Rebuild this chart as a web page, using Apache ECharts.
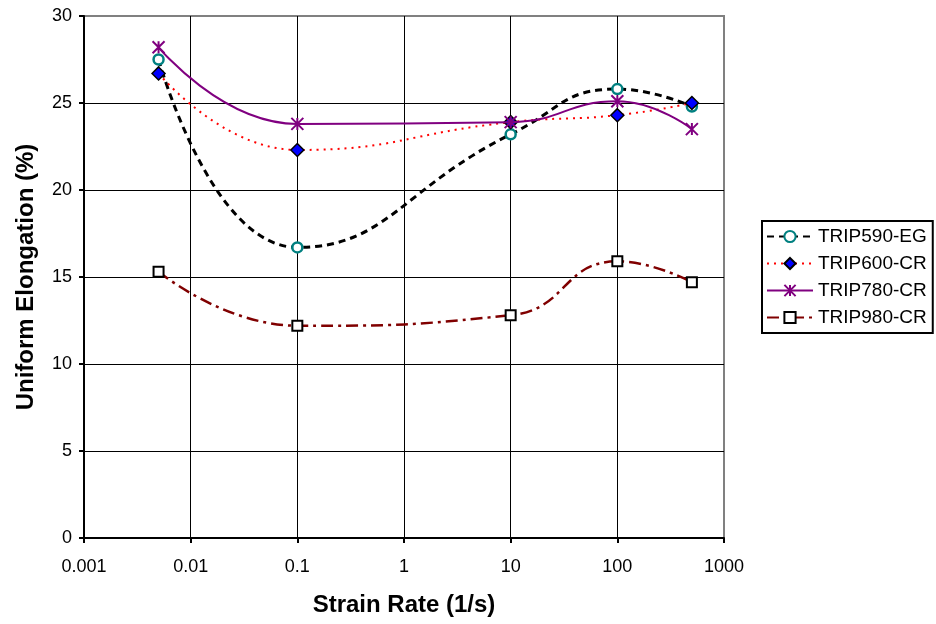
<!DOCTYPE html>
<html>
<head>
<meta charset="utf-8">
<script src="https://cdn.jsdelivr.net/npm/echarts@6/dist/echarts.min.js"></script>
<style>
  html, body { margin: 0; padding: 0; background: #fff; }
  #chart { width: 936px; height: 624px; }
</style>
</head>
<body>
<div id="chart"></div>
<script>
// strain rates (1/s)
const strainRates = [0.005, 0.1, 10, 100, 500];
const xTickLabels = ['0.001', '0.01', '0.1', '1', '10', '100', '1000'];

const trip590 = [27.5, 16.7, 23.2, 25.8, 24.8];
const trip600 = [26.7, 22.3, 23.9, 24.3, 25.0];
const trip780 = [28.2, 23.8, 23.9, 25.1, 23.5];
const trip980 = [15.3, 12.2, 12.8, 15.9, 14.7];

function pairs(vals) {
    return strainRates.map((x, i) => [x, vals[i]]);
}

const font = 'Liberation Sans, Arial, sans-serif';

var dom = document.getElementById('chart');
var myChart = echarts.init(dom, null, { renderer: 'canvas' });

var option = {
    animation: false,
    grid: {
        left: 84,
        right: 212,
        top: 16,
        bottom: 86,
        show: true,
        borderColor: '#808080',
        borderWidth: 2
    },
    legend: {
        orient: 'vertical',
        left: 762,
        top: 221,
        width: 171,
        padding: [6, 6, 6, 4],
        itemGap: 8,
        itemWidth: 46,
        itemHeight: 14,
        borderColor: '#000',
        borderWidth: 2,
        backgroundColor: '#fff',
        textStyle: { fontFamily: font, fontSize: 19, color: '#000' },
        data: ['TRIP590-EG', 'TRIP600-CR', 'TRIP780-CR', 'TRIP980-CR']
    },
    xAxis: {
        type: 'log',
        logBase: 10,
        min: 0.001,
        max: 1000,
        name: 'Strain Rate (1/s)',
        nameLocation: 'middle',
        nameGap: 55,
        nameTextStyle: { fontFamily: font, fontSize: 24, fontWeight: 'bold', color: '#000' },
        axisLine: { show: true, lineStyle: { color: '#000', width: 2 } },
        axisTick: { show: true, length: 5, lineStyle: { color: '#000', width: 2 } },
        axisLabel: {
            fontFamily: font, fontSize: 18, color: '#000', margin: 20,
            formatter: function (v) {
                return xTickLabels[Math.round(Math.log10(v)) + 3];
            }
        },
        splitLine: { show: true, showMaxLine: false, lineStyle: { color: '#000', width: 1 } },
        minorSplitLine: { show: false }
    },
    yAxis: {
        type: 'value',
        min: 0,
        max: 30,
        interval: 5,
        name: 'Uniform Elongation (%)',
        nameLocation: 'middle',
        nameGap: 46,
        nameTextStyle: { fontFamily: font, fontSize: 24, fontWeight: 'bold', color: '#000' },
        axisLine: { show: true, lineStyle: { color: '#000', width: 2 } },
        axisTick: { show: true, length: 5, lineStyle: { color: '#000', width: 2 } },
        axisLabel: { fontFamily: font, fontSize: 18, color: '#000', margin: 12 },
        splitLine: { show: true, showMaxLine: false, lineStyle: { color: '#000', width: 1 } }
    },
    series: [
        {
            name: 'TRIP590-EG',
            type: 'line',
            smooth: 0.5,
            data: pairs(trip590),
            symbol: 'circle',
            symbolSize: 10,
            lineStyle: { color: '#000', width: 3, type: [7, 5] },
            itemStyle: { color: '#fff', borderColor: '#008080', borderWidth: 2.5 },
            z: 3
        },
        {
            name: 'TRIP600-CR',
            type: 'line',
            smooth: 0.5,
            data: pairs(trip600),
            symbol: 'diamond',
            symbolSize: 13,
            lineStyle: { color: '#ff0000', width: 2, type: [2, 5] },
            itemStyle: { color: '#0000ff', borderColor: '#000', borderWidth: 1.5 },
            z: 4
        },
        {
            name: 'TRIP780-CR',
            type: 'line',
            smooth: 0.5,
            data: pairs(trip780),
            symbol: 'path://M0,0L10,10M10,0L0,10M5,0L5,10',
            symbolSize: 12,
            lineStyle: { color: '#800080', width: 2 },
            itemStyle: { color: 'rgba(0,0,0,0)', borderColor: '#800080', borderWidth: 2 },
            z: 5
        },
        {
            name: 'TRIP980-CR',
            type: 'line',
            smooth: 0.5,
            data: pairs(trip980),
            symbol: 'rect',
            symbolSize: 10,
            lineStyle: { color: '#800000', width: 2.5, type: [12, 5, 3, 5] },
            itemStyle: { color: '#fff', borderColor: '#000', borderWidth: 2 },
            z: 3
        }
    ]
};

myChart.setOption(option);
</script>
</body>
</html>
